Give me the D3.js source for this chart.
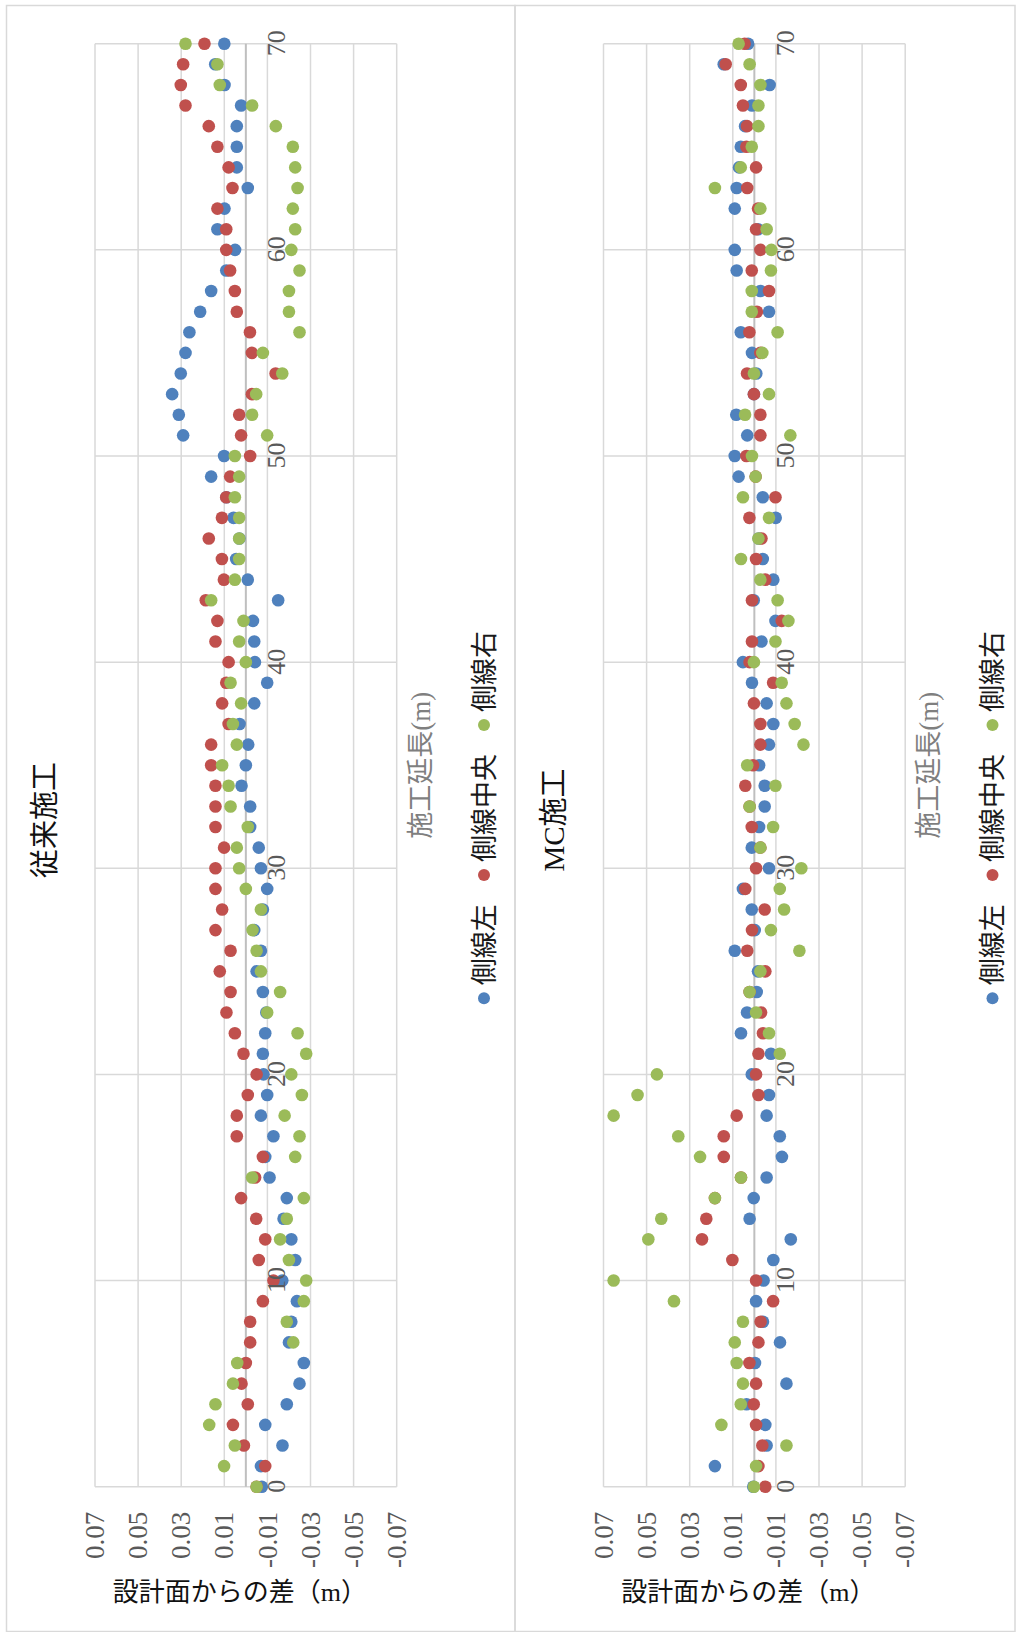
<!DOCTYPE html>
<html>
<head>
<meta charset="utf-8">
<script src="https://cdn.jsdelivr.net/npm/d3@7"></script>
<style>
  body { margin: 0; background: #fff; }
  svg { display: block; }
</style>
</head>
<body>
<svg id="chart" width="1016" height="1632"></svg>
<script>
// 施工延長 (m) — measuring stations along the road
const stations = [0,1,2,3,4,5,6,7,8,9,10,11,12,13,14,15,16,17,18,19,20,
  21,22,23,24,25,26,27,28,29,30,31,32,33,34,35,36,37,38,39,40,
  41,42,43,44,45,46,47,48,49,50,51,52,53,54,55,56,57,58,59,60,
  61,62,63,64,65,66,67,68,69,70];

const seriesNames = ["側線左", "側線中央", "側線右"];
const seriesColors = ["#4f81bd", "#c0504d", "#9bbb59"];

const stationTicks = [0,10,20,30,40,50,60,70];
const valueTicks = [-0.07,-0.05,-0.03,-0.01,0.01,0.03,0.05,0.07];

// 従来施工: deviation from design surface (m)
const convLeft = [-0.0074,-0.0070,-0.0170,-0.0090,-0.0190,-0.0249,-0.0269,-0.0200,-0.0211,-0.0237,
  -0.0169,-0.0229,-0.0211,-0.0175,-0.0190,-0.0110,-0.0090,-0.0128,-0.0070,-0.0099,
  -0.0082,-0.0079,-0.0090,-0.0095,-0.0079,-0.0050,-0.0070,-0.0039,-0.0079,-0.0099,
  -0.0070,-0.0060,-0.0020,-0.0020,0.0020,0.0000,-0.0011,0.0029,-0.0039,-0.0099,
  -0.0042,-0.0039,-0.0033,-0.0150,-0.0009,0.0045,0.0030,0.0057,0.0090,0.0161,
  0.0101,0.0291,0.0311,0.0342,0.0302,0.0280,0.0262,0.0212,0.0161,0.0091,
  0.0050,0.0132,0.0099,-0.0009,0.0042,0.0042,0.0042,0.0022,0.0099,0.0142,0.0100];
const convCenter = [-0.0050,-0.0090,0.0009,0.0060,-0.0009,0.0020,0.0000,-0.0020,-0.0020,-0.0079,
  -0.0128,-0.0060,-0.0090,-0.0048,0.0022,-0.0043,-0.0079,0.0042,0.0042,-0.0009,
  -0.0050,0.0011,0.0051,0.0090,0.0071,0.0121,0.0071,0.0141,0.0110,0.0141,
  0.0141,0.0101,0.0141,0.0141,0.0141,0.0161,0.0161,0.0080,0.0110,0.0091,
  0.0080,0.0141,0.0132,0.0186,0.0102,0.0111,0.0172,0.0111,0.0091,0.0073,
  -0.0020,0.0022,0.0031,-0.0028,-0.0138,-0.0028,-0.0019,0.0042,0.0051,0.0073,
  0.0091,0.0091,0.0132,0.0062,0.0080,0.0132,0.0172,0.0280,0.0302,0.0291,0.0192];
const convRight = [-0.0050,0.0101,0.0051,0.0170,0.0141,0.0060,0.0040,-0.0220,-0.0190,-0.0269,
  -0.0280,-0.0200,-0.0159,-0.0190,-0.0269,-0.0029,-0.0229,-0.0249,-0.0180,-0.0260,
  -0.0211,-0.0280,-0.0240,-0.0099,-0.0159,-0.0070,-0.0050,-0.0031,-0.0070,0.0000,
  0.0031,0.0042,-0.0009,0.0071,0.0080,0.0110,0.0042,0.0060,0.0022,0.0071,
  0.0000,0.0031,0.0011,0.0161,0.0051,0.0031,0.0031,0.0031,0.0051,0.0031,
  0.0051,-0.0099,-0.0029,-0.0048,-0.0169,-0.0079,-0.0249,-0.0200,-0.0200,-0.0249,
  -0.0211,-0.0229,-0.0218,-0.0240,-0.0229,-0.0218,-0.0139,-0.0029,0.0121,0.0132,0.0280];

// MC施工: deviation from design surface (m); null = off the axis range
const mcLeft = [0.0005,0.0183,-0.0057,-0.0051,0.0036,-0.0149,-0.0003,-0.0119,-0.0040,-0.0008,
  -0.0043,-0.0088,-0.0169,0.0022,0.0003,-0.0057,-0.0128,-0.0118,-0.0057,-0.0068,
  0.0012,-0.0077,0.0062,0.0034,-0.0011,-0.0017,0.0091,-0.0002,0.0012,0.0053,
  -0.0068,0.0012,-0.0022,-0.0048,-0.0048,-0.0022,-0.0068,-0.0088,-0.0057,0.0011,
  0.0053,-0.0033,-0.0098,0.0003,-0.0088,-0.0039,-0.0020,-0.0099,-0.0039,0.0073,
  0.0091,0.0033,0.0084,0.0002,-0.0009,0.0011,0.0063,-0.0068,-0.0028,0.0082,
  0.0091,-0.0017,0.0091,0.0082,0.0071,0.0063,0.0043,0.0011,-0.0071,0.0142,0.0029];
const mcCenter = [-0.0051,-0.0019,-0.0037,-0.0008,0.0003,-0.0008,0.0023,-0.0019,-0.0029,-0.0087,
  -0.0008,0.0102,0.0243,0.0223,0.0183,0.0062,0.0142,0.0142,0.0082,-0.0019,
  -0.0008,-0.0019,-0.0040,-0.0031,0.0022,-0.0051,0.0033,0.0011,-0.0048,0.0042,
  -0.0008,-0.0028,0.0012,0.0022,0.0042,0.0006,-0.0028,-0.0028,0.0002,-0.0087,
  0.0022,0.0011,-0.0127,0.0011,-0.0051,-0.0008,-0.0033,0.0023,-0.0098,-0.0006,
  0.0037,-0.0028,-0.0028,0.0002,0.0034,-0.0028,0.0023,-0.0012,-0.0068,0.0012,
  -0.0028,-0.0008,-0.0017,0.0033,-0.0008,0.0037,0.0034,0.0053,0.0063,0.0133,0.0045];
const mcRight = [0.0002,-0.0008,-0.0149,0.0153,0.0063,0.0053,0.0082,0.0091,0.0053,0.0373,
  0.0653,null,0.0492,0.0432,0.0183,0.0062,0.0252,0.0353,0.0653,0.0542,
  0.0452,-0.0118,-0.0068,-0.0008,0.0022,-0.0028,-0.0209,-0.0077,-0.0138,-0.0118,
  -0.0218,-0.0028,-0.0087,0.0022,-0.0098,0.0033,-0.0228,-0.0187,-0.0149,-0.0127,
  0.0002,-0.0098,-0.0158,-0.0108,-0.0028,0.0062,-0.0019,-0.0068,0.0053,-0.0006,
  0.0011,-0.0167,0.0043,-0.0068,0.0002,-0.0037,-0.0108,0.0012,0.0012,-0.0077,
  -0.0079,-0.0057,-0.0028,0.0183,0.0063,0.0012,-0.0019,-0.0019,-0.0028,0.0022,0.0073];

const panels = [
  { title: "従来施工", offset: 0,     series: [convLeft, convCenter, convRight] },
  { title: "MC施工",   offset: 508.5, series: [mcLeft, mcCenter, mcRight] }
];

const valueTitle = "設計面からの差（m）";
const stationTitle = "施工延長(m)";

const H = 1632;              // page height; each chart is drawn sideways (rotated -90°)
const serif = "'Liberation Serif', 'Noto Sans CJK JP', serif";
const cjk = "'Noto Sans CJK JP', 'Liberation Serif', sans-serif";

const svg = d3.select("#chart");

// chart frames
svg.append("rect").attr("x", 6.5).attr("y", 5.5).attr("width", 508.5).attr("height", 1626)
  .attr("fill", "none").attr("stroke", "#d9d9d9").attr("stroke-width", 1.5);
svg.append("rect").attr("x", 515).attr("y", 5.5).attr("width", 500).attr("height", 1626)
  .attr("fill", "none").attr("stroke", "#d9d9d9").attr("stroke-width", 1.5);

// in the un-rotated frame: x runs along the station axis, y along the deviation axis
const x = d3.scaleLinear().domain([0, 70]).range([145.3, 1588.3]);
const y = d3.scaleLinear().domain([-0.07, 0.07]).range([396.7, 95]);

panels.forEach(p => {
  const g = svg.append("g")
    .attr("transform", `translate(${p.offset},${H}) rotate(-90)`);

  // gridlines
  g.append("g").selectAll("line.v").data(stationTicks).join("line")
    .attr("x1", d => x(d)).attr("x2", d => x(d))
    .attr("y1", y(0.07)).attr("y2", y(-0.07))
    .attr("stroke", "#d9d9d9").attr("stroke-width", 1.5);
  g.append("g").selectAll("line.h").data(valueTicks).join("line")
    .attr("x1", x(0)).attr("x2", x(70))
    .attr("y1", d => y(d)).attr("y2", d => y(d))
    .attr("stroke", "#d9d9d9").attr("stroke-width", 1.5);
  // zero line
  g.append("line")
    .attr("x1", x(0)).attr("x2", x(70))
    .attr("y1", y(0)).attr("y2", y(0))
    .attr("stroke", "#bfbfbf").attr("stroke-width", 2);

  // points
  p.series.forEach((vals, si) => {
    const pts = stations.map((s, i) => ({ s, v: vals[i] })).filter(d => d.v != null);
    g.append("g").selectAll("circle").data(pts).join("circle")
      .attr("cx", d => x(d.s)).attr("cy", d => y(d.v))
      .attr("r", 6.3).attr("fill", seriesColors[si]);
  });

  // deviation axis labels
  const ya = g.append("g").attr("transform", `translate(${x(0)},0)`)
    .call(d3.axisLeft(y).tickValues(valueTicks).tickFormat(d => d.toFixed(2))
      .tickSize(0).tickPadding(25));
  ya.select(".domain").remove();
  ya.attr("font-family", serif).attr("font-size", 27);
  ya.selectAll("text").attr("fill", "#595959");

  // station axis labels, along the zero line
  const xa = g.append("g").attr("transform", `translate(0,${y(0)})`)
    .call(d3.axisBottom(x).tickValues(stationTicks).tickFormat(d3.format("d"))
      .tickSize(0).tickPadding(21));
  xa.select(".domain").remove();
  xa.attr("font-family", serif).attr("font-size", 26);
  xa.selectAll("text").attr("fill", "#595959");

  // chart title
  g.append("text").attr("x", 812).attr("y", 45).attr("dy", "0.36em")
    .attr("text-anchor", "middle").attr("font-family", serif).attr("font-size", 29)
    .attr("fill", "#111").text(p.title);

  // station axis title
  g.append("text").attr("x", (x(0) + x(70)) / 2).attr("y", 420).attr("dy", "0.36em")
    .attr("text-anchor", "middle").attr("font-family", serif).attr("font-size", 27)
    .attr("fill", "#7f7f7f").text(stationTitle);

  // legend
  const legendX = [633.7, 757, 907];
  const lg = g.append("g").selectAll("g").data(seriesNames).join("g")
    .attr("transform", (d, i) => `translate(${legendX[i]},484)`);
  lg.append("circle").attr("r", 6).attr("fill", (d, i) => seriesColors[i]);
  lg.append("text").attr("x", 13).attr("dy", "0.36em")
    .attr("font-family", cjk).attr("font-size", 27).attr("fill", "#1a1a1a")
    .text(d => d);

  // deviation axis title (upright, under the chart)
  svg.append("text")
    .attr("x", p.offset + (y(0.07) + y(-0.07)) / 2 - 6)
    .attr("y", 1592).attr("dy", "0.36em")
    .attr("text-anchor", "middle").attr("font-family", serif).attr("font-size", 26)
    .attr("fill", "#111").text(valueTitle);
});
</script>
</body>
</html>
